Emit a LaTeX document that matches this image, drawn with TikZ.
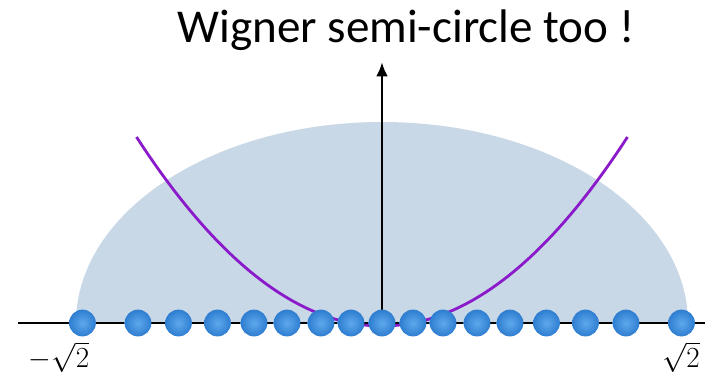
\documentclass[tikz,border=0pt]{standalone}
\usepackage{fontspec}
\setmainfont{Carlito}
\usetikzlibrary{arrows.meta}
\definecolor{semifill}{HTML}{C8D8E6}
\definecolor{potline}{HTML}{8B1ACB}
\definecolor{eigin}{HTML}{5EA8EC}
\definecolor{eigout}{HTML}{2E7DD0}

\begin{document}
\begin{tikzpicture}[x=0.025cm,y=0.025cm,line width=2.1pt,
  eigen/.style={circle,inner sep=0pt,minimum size=0.67cm,
    shading=radial,inner color=eigin,outer color=eigout}]
  \useasboundingbox (-382,-55) rectangle (323,323);
  \fill[semifill] (-306,0) arc[start angle=180,end angle=0,
    x radius=306,y radius=201] -- cycle;
  \draw[potline,line width=2pt] plot[domain=-245.5:245.5,samples=80]
    (\x,{-3+189*(\x/245.5)^2});
  \coordinate (left) at (-364,0);
  \coordinate (right) at (323,0);
  \coordinate (origin) at (0,0);
  \coordinate (top) at (0,261);
  \draw (left) -- (right);
  \draw[-{Latex[length=0.36cm,width=0.3cm]}] (origin) -- (top);
  \node[anchor=base,font=\fontsize{33.5}{40}\selectfont] (title) at (24,281)
    {Wigner semi-circle too !};

  % eigenvalues
  \node[eigen] (e0) at (0,0) {};
  \foreach \i/\p in {1/31,2/61,3/95,4/128,5/164.5,6/203.5,7/244,8/299.5}{
    \node[eigen] (r\i) at (\p,0) {};
    \node[eigen] (l\i) at (-\p,0) {};
  }
  \node[font=\fontsize{22}{26}\selectfont] (lo) at (-323,-34) {$-\sqrt{2}$};
  \node[font=\fontsize{22}{26}\selectfont] (hi) at (299,-34) {$\sqrt{2}$};
\end{tikzpicture}
\end{document}
